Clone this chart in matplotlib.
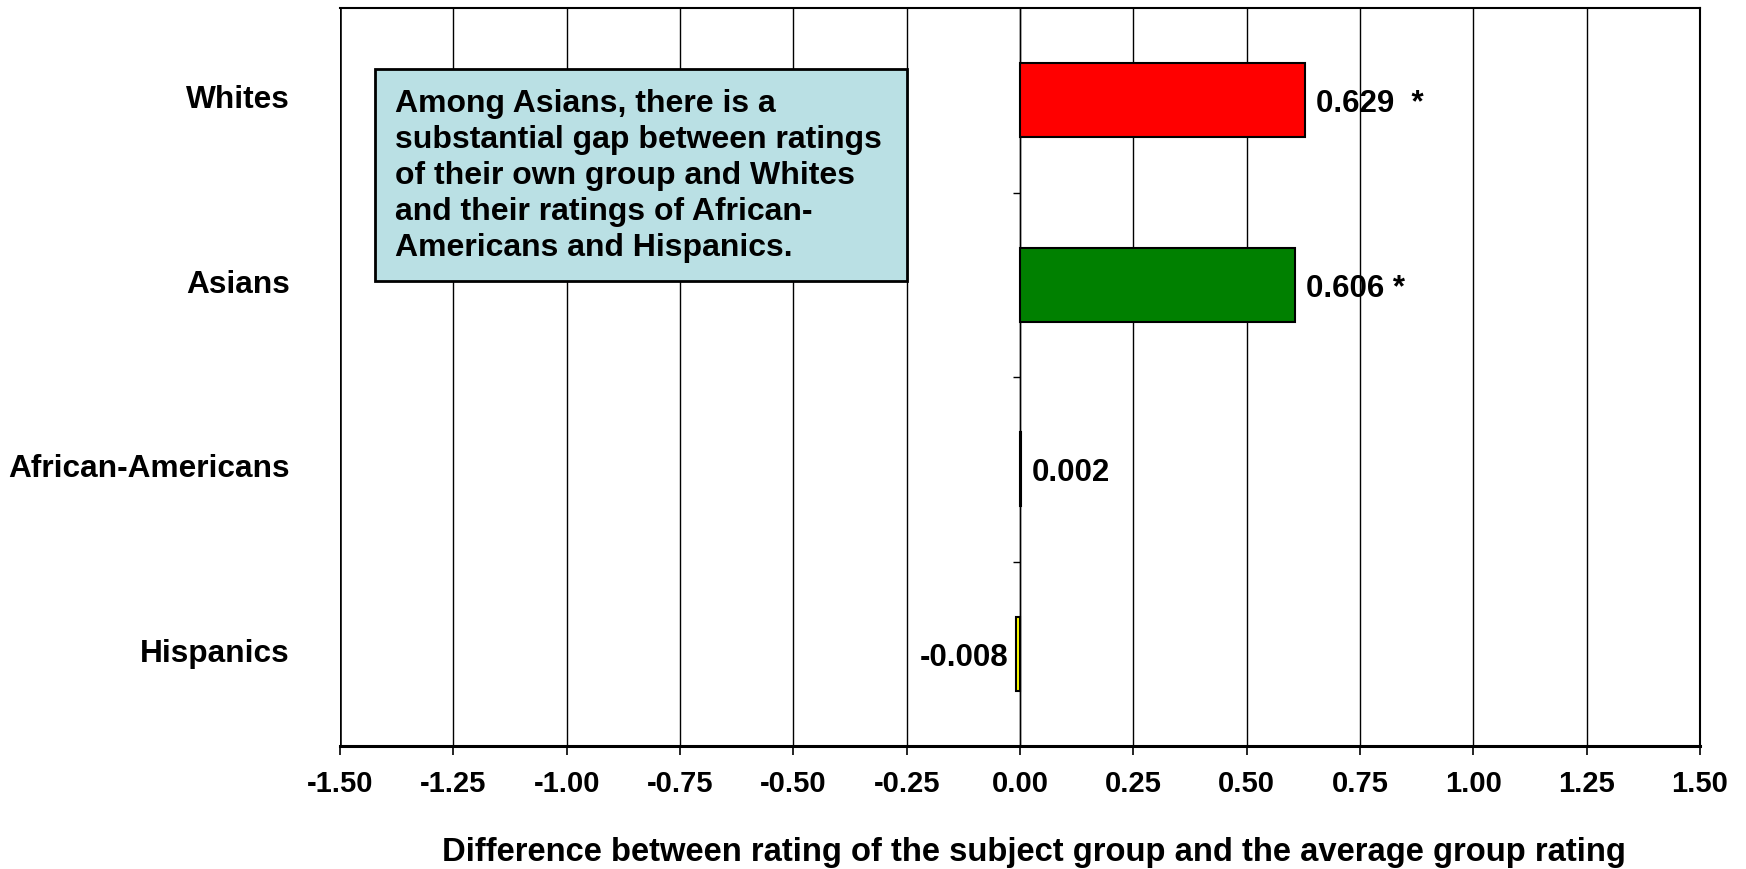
import matplotlib
matplotlib.use("Agg")
import matplotlib.pyplot as plt
from matplotlib.patches import Rectangle
from matplotlib.ticker import FixedLocator, NullFormatter

plt.rcParams['font.family'] = ['Liberation Sans', 'DejaVu Sans']
plt.rcParams['font.weight'] = 'bold'

# ---- data ----
categories = ["Whites", "Asians", "African-Americans", "Hispanics"]
values = [0.629, 0.606, 0.002, -0.008]
value_labels = ["0.629  *", "0.606 *", "0.002", "-0.008"]
bar_colors = ["#FF0000", "#008000", "#3366FF", "#FFFF00"]
x_ticks = [-1.50, -1.25, -1.00, -0.75, -0.50, -0.25, 0.00, 0.25, 0.50, 0.75, 1.00, 1.25, 1.50]
x_label = "Difference between rating of the subject group and the average group rating"
note = ("Among Asians, there is a\nsubstantial gap between ratings\nof their own group and Whites\n"
        "and their ratings of African-\nAmericans and Hispanics.")

W, H, DPI = 1746, 869, 100
fig = plt.figure(figsize=(W / DPI, H / DPI), dpi=DPI)
ax_top, ax_bot = 8, 746
ax = fig.add_axes([340 / W, 1 - ax_bot / H, (1700 - 340) / W, (ax_bot - ax_top) / H])

ypos = list(range(len(categories)))
ax.set_xlim(x_ticks[0], x_ticks[-1])
ax.set_ylim(len(categories) - 0.5, -0.5)

# grid
ax.set_xticks(x_ticks)
ax.set_xticklabels([f"{t:.2f}" for t in x_ticks], fontsize=21, fontweight='bold')
ax.xaxis.grid(True, color='black', linewidth=1.0)
ax.set_axisbelow(True)
ax.tick_params(axis='x', direction='out', length=6.5, width=1.2, pad=11, color='black')

# bars
ax.barh(ypos, values, height=0.4, color=bar_colors, edgecolor='black', linewidth=1.5, zorder=3)

# value labels
for y, v, lab in zip(ypos, values, value_labels):
    if v >= 0:
        ax.annotate(lab, xy=(v, y), xytext=(8, -3), textcoords='offset points',
                    ha='left', va='center', fontsize=22.5, fontweight='bold', zorder=4)
    else:
        ax.annotate(lab, xy=(v, y), xytext=(-6, -3), textcoords='offset points',
                    ha='right', va='center', fontsize=22.5, fontweight='bold', zorder=4)

# category axis at x=0 with tick marks between categories
ax.spines['left'].set_position(('data', 0))
ax.spines['left'].set_linewidth(1.0)
ax.yaxis.set_major_locator(FixedLocator(ypos))
ax.yaxis.set_major_formatter(NullFormatter())
ax.tick_params(axis='y', which='major', length=0)
ax.yaxis.set_minor_locator(FixedLocator([y + 0.5 for y in ypos[:-1]]))
ax.tick_params(axis='y', which='minor', direction='out', length=5, width=1.0, color='black')

for s in ['top', 'right']:
    ax.spines[s].set_linewidth(1.5)
ax.spines['bottom'].set_linewidth(2.2)
ax.axvline(x_ticks[0], color='black', linewidth=1.8, zorder=2)

# category labels
trans = ax.get_yaxis_transform()
for y, c in zip(ypos, categories):
    ax.text(-0.037, y, c, transform=trans, ha='right', va='center',
            fontsize=22.8, fontweight='bold')

# x label
fig.text((340 + 1700) / 2 / W + 0.008, 1 - 853 / H, x_label, ha='center', va='center',
         fontsize=23.6, fontweight='bold')

# annotation box
ax.add_patch(Rectangle((-1.423, -0.17), 1.173, 1.15, facecolor='#BAE0E4',
                       edgecolor='black', linewidth=2, zorder=5))
ax.text(-1.378, -0.063, note, ha='left', va='top', fontsize=23, fontweight='bold',
        linespacing=1.265, zorder=6)

fig.savefig("out.png", dpi=DPI)
